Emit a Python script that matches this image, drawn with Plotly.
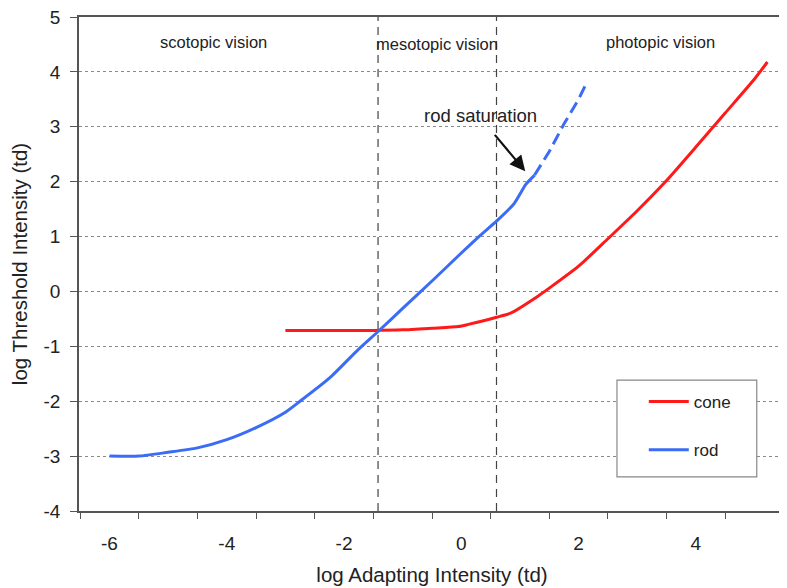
import plotly.graph_objects as go

# ---- data ----
rod_x = [-6.0, -5.5, -5.0, -4.5, -4.0, -3.5, -3.0, -2.75, -2.25, -1.75, -1.42, -1.0, -0.5, 0.0, 0.3, 0.6, 0.9, 1.1, 1.25]
rod_y = [-3.0, -3.0, -2.93, -2.85, -2.7, -2.48, -2.2, -2.0, -1.58, -1.05, -0.73, -0.31, 0.19, 0.7, 1.0, 1.28, 1.6, 1.95, 2.12]

rod_sat_x = [1.25, 1.5, 1.75, 2.0, 2.15]
rod_sat_y = [2.12, 2.55, 3.05, 3.5, 3.83]

cone_x = [-3.0, -2.5, -2.0, -1.5, -1.0, -0.5, -0.05, 0.12, 0.6, 0.85, 1.3, 1.5, 2.0, 2.5, 3.0, 3.5, 4.0, 4.5, 5.0, 5.22]
cone_y = [-0.71, -0.71, -0.71, -0.71, -0.70, -0.67, -0.64, -0.60, -0.47, -0.39, -0.09, 0.06, 0.46, 0.96, 1.47, 2.02, 2.63, 3.25, 3.87, 4.18]

boundaries = [-1.42, 0.6]
region_labels = ["scotopic vision", "mesotopic vision", "photopic vision"]
region_x = [-4.23, -0.41, 3.4]
region_y = [4.55, 4.5, 4.54]

x_tickvals = [-6, -4, -2, 0, 2, 4]
x_ticktext = ["-6", "-4", "-2", "0", "2", "4"]
y_tickvals = [-4, -3, -2, -1, 0, 1, 2, 3, 4, 5]
y_ticktext = ["-4", "-3", "-2", "-1", "0", "1", "2", "3", "4", "5"]

FONT = "Liberation Sans, Arial, sans-serif"
RED = "#ff1a1a"
BLUE = "#3a6cf5"
AX = "#555555"

fig = go.Figure()

for b in boundaries:
    fig.add_trace(go.Scatter(x=[b, b], y=[-4, 5], mode="lines",
                             line=dict(color="#444444", width=1.2, dash="8px,6px"),
                             showlegend=False, hoverinfo="skip"))

fig.add_trace(go.Scatter(x=cone_x, y=cone_y, mode="lines", name="cone",
                         line=dict(color=RED, width=3, shape="spline", smoothing=0.6),
                         legendgroup="cone"))
fig.add_trace(go.Scatter(x=rod_x, y=rod_y, mode="lines", name="rod",
                         line=dict(color=BLUE, width=3, shape="spline", smoothing=0.6),
                         legendgroup="rod"))
fig.add_trace(go.Scatter(x=rod_sat_x, y=rod_sat_y, mode="lines", name="rod saturation",
                         line=dict(color=BLUE, width=3, dash="12px,6px"),
                         showlegend=False, legendgroup="rod"))

# region labels
for t, xx, yy in zip(region_labels, region_x, region_y):
    fig.add_annotation(x=xx, y=yy, text=t, showarrow=False,
                       font=dict(family=FONT, size=16.5, color="#222"))

# rod saturation label & arrow
fig.add_annotation(x=0.32, y=3.21, text="rod saturation", showarrow=False,
                   font=dict(family=FONT, size=18.5, color="#222"))
fig.add_annotation(x=1.09, y=2.19, ax=0.55, ay=2.88, axref="x", ayref="y",
                   text="", showarrow=True, arrowhead=2, arrowsize=1.4,
                   arrowwidth=2.2, arrowcolor="#111")

# legend box
fig.add_shape(type="rect", xref="paper", yref="paper",
              x0=0.762, x1=0.960, y0=0.069, y1=0.265,
              line=dict(color="#888888", width=1.2), fillcolor="white", layer="above")

# the page body adds an 8px offset, so the figure is sized/margined to compensate
fig.update_layout(
    width=779, height=580,
    margin=dict(l=71, r=2, t=9, b=77),
    paper_bgcolor="white", plot_bgcolor="white",
    font=dict(family=FONT, size=19, color="#222"),
    showlegend=True,
    legend=dict(x=0.80, y=0.257, xanchor="left", yanchor="top",
                bgcolor="rgba(0,0,0,0)", borderwidth=0,
                font=dict(family=FONT, size=17, color="#222"),
                tracegroupgap=23, traceorder="grouped", itemwidth=40),
    xaxis=dict(range=[-6.52, 5.52], tickvals=x_tickvals, ticktext=x_ticktext,
               ticks="outside", ticklen=0, ticklabelstandoff=14, automargin=False,
               showgrid=False, zeroline=False,
               showline=True, linecolor=AX, linewidth=1.5, mirror=True,
               minor=dict(tick0=-6.5, dtick=1, ticks="outside", ticklen=6,
                          tickcolor=AX, tickwidth=1.2, showgrid=False),
               title=dict(text="log Adapting Intensity (td)", standoff=15,
                          font=dict(family=FONT, size=20.5, color="#222"))),
    yaxis=dict(range=[-4, 5], tickvals=y_tickvals, ticktext=y_ticktext,
               ticks="outside", ticklen=7, tickcolor=AX, tickwidth=1.2,
               ticklabelstandoff=6, automargin=False, ticklabeloverflow="allow",
               showgrid=True, gridcolor="#8a8a8a", gridwidth=1, griddash="dot",
               zeroline=False, showline=True, linecolor=AX, linewidth=1.5,
               title=dict(text="log Threshold Intensity (td)", standoff=11,
                          font=dict(family=FONT, size=20.5, color="#222"))),
)

fig.write_html("out.html")
